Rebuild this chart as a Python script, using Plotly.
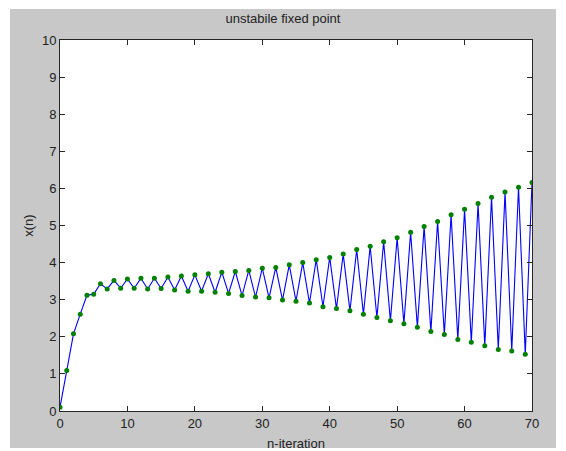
import plotly.graph_objects as go

n_iter = list(range(71))
x_vals = [0.10, 1.09, 2.08, 2.61, 3.12, 3.15, 3.43, 3.29, 3.52, 3.31,
          3.56, 3.31, 3.58, 3.29, 3.58, 3.30, 3.61, 3.26, 3.64, 3.23,
          3.67, 3.23, 3.70, 3.20, 3.74, 3.17, 3.76, 3.11, 3.79, 3.07,
          3.85, 3.05, 3.87, 2.99, 3.94, 2.96, 4.00, 2.91, 4.08, 2.81,
          4.14, 2.76, 4.23, 2.70, 4.35, 2.61, 4.44, 2.52, 4.56, 2.43,
          4.67, 2.35, 4.82, 2.26, 4.97, 2.14, 5.11, 2.06, 5.29, 1.93,
          5.44, 1.85, 5.59, 1.76, 5.76, 1.66, 5.90, 1.62, 6.03, 1.53,
          6.16]

title_text = "unstabile fixed point"
x_label = "n-iteration"
y_label = "x(n)"

W, H = 566, 451
L, R, T, B = 60, 532, 40, 411

fig = go.Figure()
fig.add_trace(go.Scatter(x=n_iter, y=x_vals, mode="lines",
                         line=dict(color="#0000ff", width=1.1),
                         hoverinfo="skip", showlegend=False))
fig.add_trace(go.Scatter(x=n_iter, y=x_vals, mode="markers",
                         marker=dict(color="#008000", size=5, symbol="circle",
                                     line=dict(width=0)),
                         showlegend=False))

pw, ph = R - L, B - T
def px(xp):
    return (xp - L) / pw
def py(yp):
    return (B - yp) / ph

# white outer border around the grey figure area
gx0, gx1, gy0, gy1 = 10, 556, 9, 448
white = dict(type="rect", xref="paper", yref="paper", fillcolor="white",
             line=dict(width=0), layer="above")
shapes = [
    dict(white, x0=px(0), x1=px(gx0), y0=py(H), y1=py(0)),
    dict(white, x0=px(gx1), x1=px(W), y0=py(H), y1=py(0)),
    dict(white, x0=px(0), x1=px(W), y0=py(gy0), y1=py(0)),
    dict(white, x0=px(0), x1=px(W), y0=py(H), y1=py(gy1)),
]

font = dict(family="Liberation Sans, Arial", size=13, color="#222")
axis_common = dict(showgrid=False, zeroline=False, showline=True,
                   linecolor="#262626", linewidth=1, mirror="ticks",
                   ticks="inside", ticklen=5, tickcolor="#262626",
                   tickfont=font, automargin=False)

fig.update_layout(
    width=W, height=H,
    margin=dict(l=L, r=W - R, t=T, b=H - B),
    paper_bgcolor="#c8c8c8", plot_bgcolor="white",
    shapes=shapes,
    title=dict(text=title_text, x=0.5, xanchor="center", y=1 - 18 / H, yanchor="middle",
               font=font, automargin=False),
    xaxis=dict(axis_common, range=[0, 70], tickvals=list(range(0, 71, 10)),
               title=dict(text=x_label, standoff=10, font=font)),
    yaxis=dict(axis_common, range=[0, 10], tickvals=list(range(0, 11)),
               title=dict(text=y_label, standoff=5, font=font)),
)

fig.write_html("out.html")
